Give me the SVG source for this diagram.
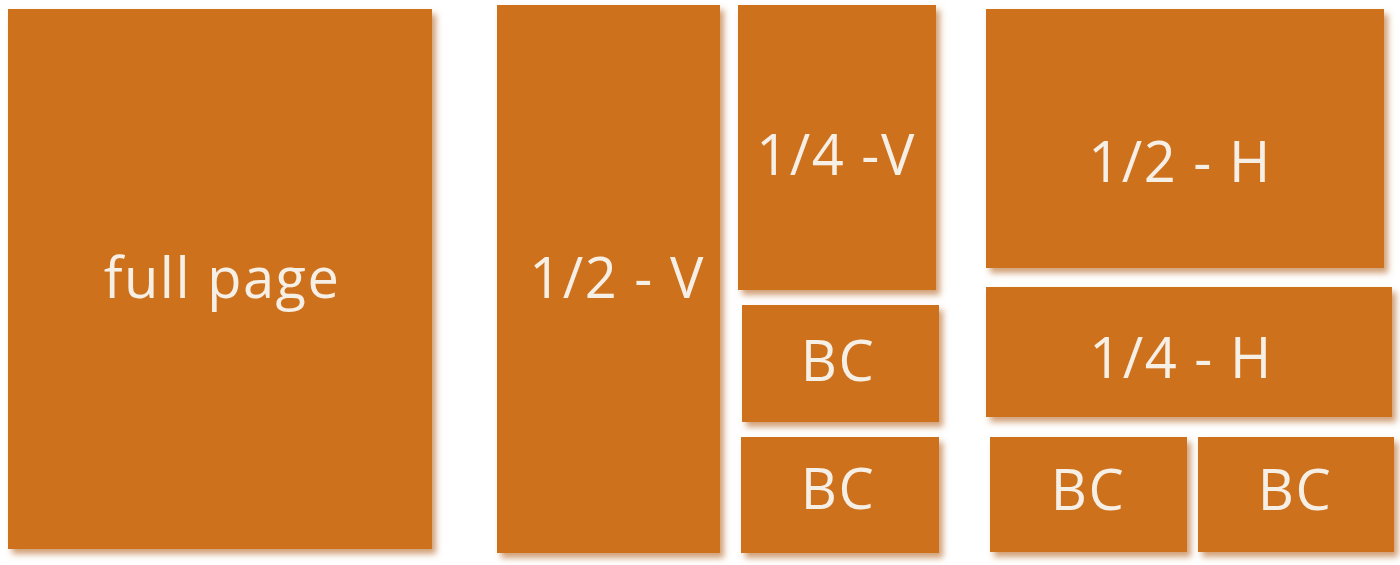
<svg xmlns="http://www.w3.org/2000/svg" width="1400" height="565" viewBox="0 0 1400 565">
<defs>
<filter id="sh" x="-10%" y="-10%" width="125%" height="125%">
<feDropShadow dx="4" dy="5" stdDeviation="3" flood-color="#b86a2c" flood-opacity="0.65"/>
</filter>
<style>
.b{fill:#ce711f;filter:url(#sh)}
.t{fill:#f6efe6;font-family:"Open Sans","Liberation Sans",sans-serif;font-size:56px;letter-spacing:1.5px;text-anchor:middle}
</style>
</defs>
<rect width="1400" height="565" fill="#ffffff"/>
<g id="full-page"><rect class="b" x="8" y="9" width="424" height="540"/><text class="t" x="222" y="298">full page</text></g>
<g id="half-v"><rect class="b" x="497" y="5" width="223" height="548"/><text class="t" x="617" y="298">1/2 - V</text></g>
<g id="quarter-v"><rect class="b" x="738" y="5" width="198" height="285"/><text class="t" x="836" y="175">1/4 -V</text></g>
<g id="bc1"><rect class="b" x="742" y="305" width="197" height="117"/><text class="t" x="838" y="381">BC</text></g>
<g id="bc2"><rect class="b" x="741" y="437" width="198" height="116"/><text class="t" x="838" y="509">BC</text></g>
<g id="half-h"><rect class="b" x="986" y="9" width="398" height="259"/><text class="t" x="1180" y="182">1/2 - H</text></g>
<g id="quarter-h"><rect class="b" x="986" y="287" width="406" height="130"/><text class="t" x="1181" y="378">1/4 - H</text></g>
<g id="bc3"><rect class="b" x="990" y="437" width="197" height="115"/><text class="t" x="1088" y="510">BC</text></g>
<g id="bc4"><rect class="b" x="1198" y="437" width="196" height="115"/><text class="t" x="1295" y="510">BC</text></g>
<g id="connectors"/>
</svg>
